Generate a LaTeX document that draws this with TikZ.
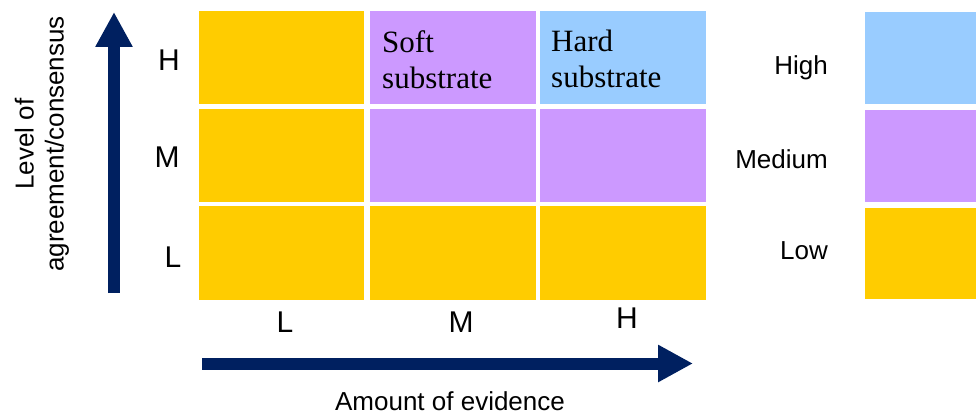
\documentclass[tikz,border=0pt]{standalone}
\usepackage{fontspec}
\setmainfont{Liberation Sans}
\newfontfamily\seriffont{Liberation Serif}
\usetikzlibrary{arrows.meta}
\definecolor{lowc}{HTML}{FFCC00}
\definecolor{medc}{HTML}{CC99FF}
\definecolor{highc}{HTML}{99CCFF}
\definecolor{navy}{HTML}{002060}
\tikzset{
  cell/.style={draw=none, inner sep=0pt, outer sep=0pt, anchor=north west, minimum width=166pt, minimum height=93pt},
  celltext/.style={inner sep=0pt, anchor=north west, align=left, font=\seriffont\fontsize{31}{36}\selectfont},
  axislbl/.style={inner sep=0pt, font=\fontsize{30}{34}\selectfont},
  lbl/.style={inner sep=0pt, font=\fontsize{26}{30}\selectfont},
  bigarrow/.style={navy, line width=12pt, -{Triangle[width=35pt,length=35pt]}},
}
\begin{document}
\begin{tikzpicture}[x=1pt,y=-1pt]
\useasboundingbox (0,0) rectangle (980,414);
% grid cells
\node[cell, fill=lowc, minimum width=165pt] (c11) at (199,11) {};
\node[cell, fill=medc] (c12) at (369.5,11) {};
\node[cell, fill=highc] (c13) at (540,11) {};
\node[cell, fill=lowc, minimum width=165pt] (c21) at (199,109) {};
\node[cell, fill=medc] (c22) at (369.5,109) {};
\node[cell, fill=medc] (c23) at (540,109) {};
\node[cell, fill=lowc, minimum width=165pt, minimum height=94pt] (c31) at (199,206) {};
\node[cell, fill=lowc, minimum height=94pt] (c32) at (369.5,206) {};
\node[cell, fill=lowc, minimum height=94pt] (c33) at (540,206) {};
% cell texts
\node[celltext] (soft) at (382,30) {Soft\\substrate};
\node[celltext] (hard) at (551,30) {Hard\\substrate};
% legend
\node[cell, fill=highc, minimum width=111pt, minimum height=92pt] (lh) at (865,12) {};
\node[cell, fill=medc, minimum width=111pt, minimum height=92pt] (lm) at (865,110) {};
\node[cell, fill=lowc, minimum width=111pt, minimum height=91pt] (ll) at (865,208) {};
\node[lbl, anchor=east] (th) at (828,68) {High};
\node[lbl, anchor=east] (tm) at (828,159) {Medium};
\node[lbl, anchor=east] (tl) at (828,251) {Low};
% y-axis labels
\node[axislbl] (yh) at (169,60) {H};
\node[axislbl] (ym) at (167,157) {M};
\node[axislbl] (yl) at (173,257) {L};
% x-axis labels
\node[axislbl] (xl) at (285,322) {L};
\node[axislbl] (xm) at (461,322) {M};
\node[axislbl] (xh) at (627,318) {H};
% arrows
\coordinate (ya0) at (114,293);
\coordinate (ya1) at (114,12);
\draw[bigarrow] (ya0) -- (ya1);
\coordinate (xa0) at (202,363.5);
\coordinate (xa1) at (693,363.5);
\draw[bigarrow] (xa0) -- (xa1);
% axis titles
\node[lbl, align=center, rotate=90] (ytitle) at (42,144) {Level of\\agreement/consensus};
\node[lbl] (xtitle) at (450,401) {Amount of evidence};
\end{tikzpicture}
\end{document}
